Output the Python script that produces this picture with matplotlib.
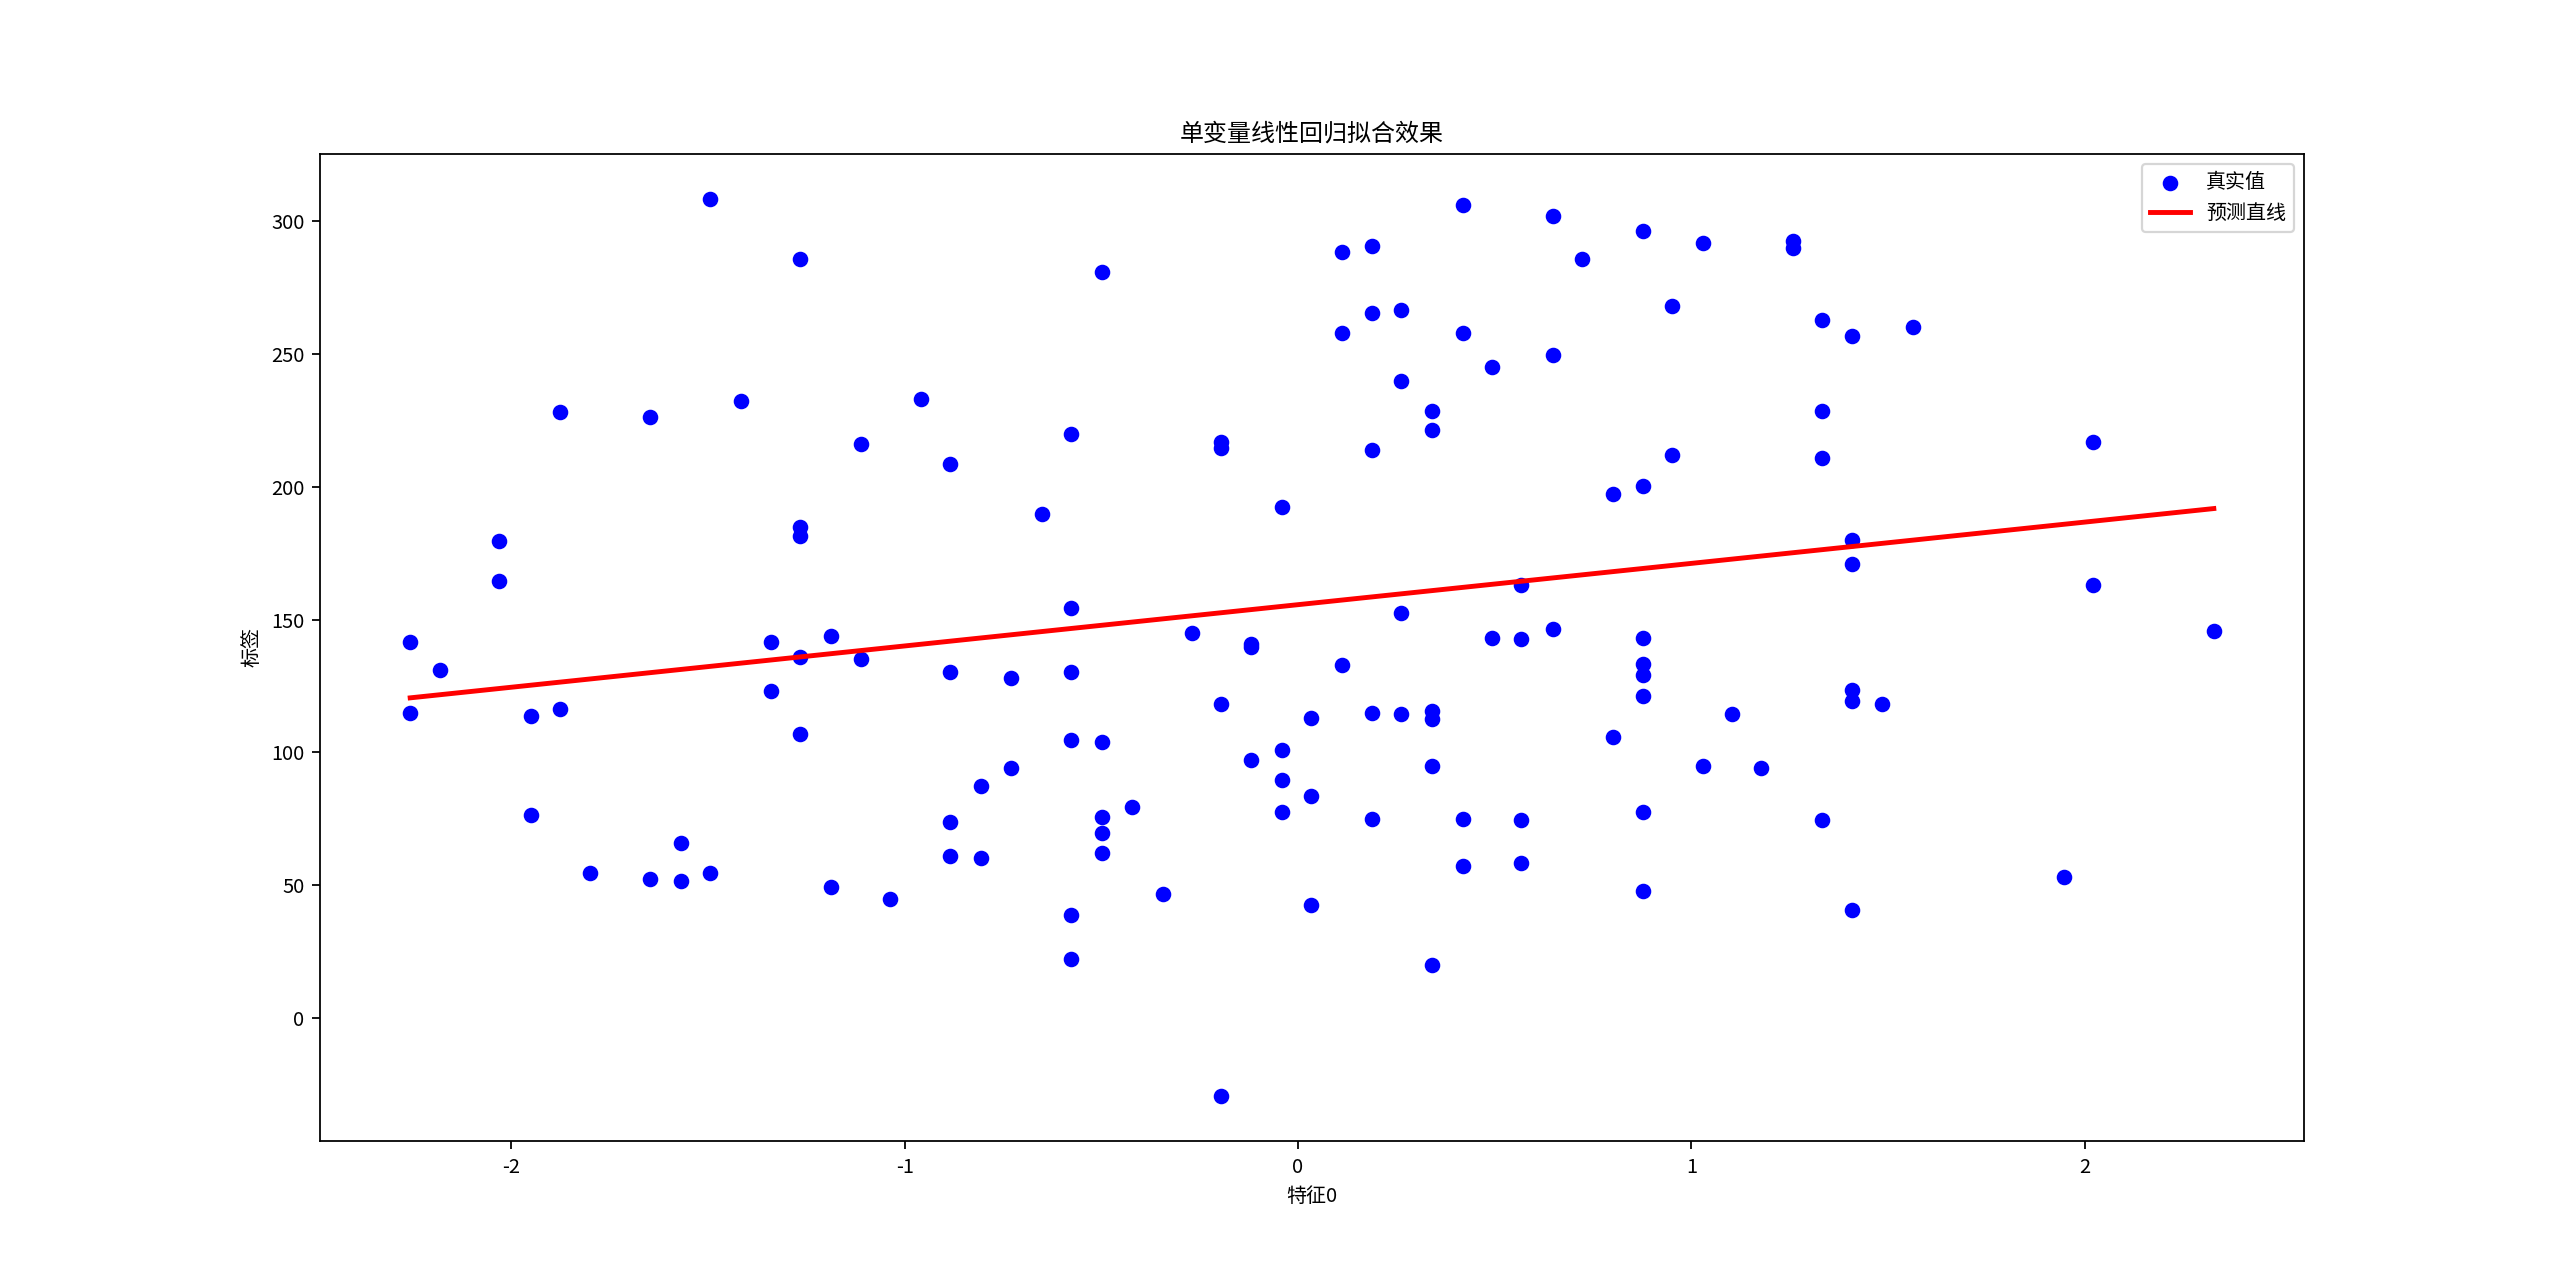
import matplotlib
matplotlib.use("Agg")
import matplotlib.pyplot as plt

plt.rcParams['font.family'] = ['Noto Sans CJK SC', 'DejaVu Sans']
plt.rcParams['axes.unicode_minus'] = False
plt.rcParams['font.size'] = 9

x_vals = [-2.257,-2.257,-2.18,-2.03,-2.03,-1.95,-1.95,-1.875,-1.875,-1.80,-1.647,-1.647,-1.568,-1.568,
 -1.494,-1.494,-1.415,-1.34,-1.34,-1.266,-1.266,-1.266,-1.266,-1.266,-1.187,-1.187,-1.112,-1.112,-1.037,
 -0.959,-0.884,-0.884,-0.884,-0.884,-0.805,-0.805,-0.73,-0.73,-0.651,-0.577,-0.577,-0.577,-0.577,-0.577,-0.577,
 -0.498,-0.498,-0.498,-0.498,-0.498,-0.423,-0.344,-0.27,-0.195,-0.195,-0.195,-0.195,-0.12,-0.12,-0.12,
 -0.041,-0.041,-0.041,-0.041,0.033,0.033,0.033,0.112,0.112,0.112,0.187,0.187,0.187,0.187,0.187,
 0.261,0.261,0.261,0.261,0.34,0.34,0.34,0.34,0.34,0.34,0.419,0.419,0.419,0.419,0.494,0.494,
 0.568,0.568,0.568,0.568,0.647,0.647,0.647,0.722,0.80,0.80,0.876,0.876,0.876,0.876,0.876,0.876,0.876,0.876,
 0.95,0.95,1.029,1.029,1.104,1.178,1.257,1.257,1.332,1.332,1.332,1.332,1.407,1.407,1.407,1.407,1.407,1.407,
 1.485,1.564,1.946,2.02,2.02,2.328]
y_vals = [141.4,114.9,130.9,179.5,164.7,113.7,76.2,228,116.2,54.7,226.2,52.2,65.8,51.6,
 308.5,54.7,232.3,141.4,122.9,285.8,185,181.3,135.8,107,143.8,49.2,216.3,135.2,44.9,
 232.9,208.4,130.3,73.8,60.8,87.3,60.2,127.8,94,189.9,220,154.3,130.3,104.5,38.7,22.1,
 280.9,103.9,75.6,69.5,62.1,79.3,46.7,145,217,214.5,118,-29.5,140.7,139.5,97.1,
 192.4,100.8,89.7,77.4,113.1,83.6,42.4,288.3,258.1,132.8,290.7,265.5,213.9,114.9,75,
 266.7,239.7,152.4,114.3,228.6,221.3,115.5,112.5,94.7,19.7,306.1,258.1,75,57.2,245.2,143.2,
 162.9,142.6,74.4,58.4,301.8,249.5,146.3,285.8,197.3,105.7,296.3,200.4,143.2,133.4,129.1,121.1,77.4,47.9,
 268,212,291.9,94.7,114.3,94,292.6,290.1,263,228.6,210.8,74.4,256.9,180.1,170.9,123.5,119.2,40.6,
 118,260,52.9,217,162.9,145.7]

line_x = [-2.257, 2.328]
line_y = [120.5, 191.8]

fig, ax = plt.subplots(figsize=(16, 8.0125), dpi=160)
ax.scatter(x_vals, y_vals, color='blue', label='真实值')
ax.plot(line_x, line_y, color='red', linewidth=2.2, label='预测直线')
ax.set_title('单变量线性回归拟合效果')
ax.set_xlabel('特征0')
ax.set_ylabel('标签')
ax.legend(loc='upper right')
fig.savefig('out.png')
